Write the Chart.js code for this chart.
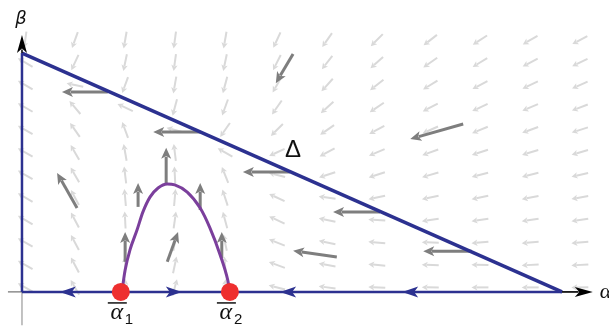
<!DOCTYPE html>
<html>
<head>
<meta charset="utf-8">
<script src="https://cdn.jsdelivr.net/npm/chart.js@4.4.0/dist/chart.umd.min.js"></script>
<style>
html, body { margin: 0; padding: 0; background: #fff; }
</style>
</head>
<body>
<canvas id="myChart" width="609" height="328"></canvas>
<script>
// phase plane, triangle corners at (1,0) and (0,1): Delta is alpha + beta = 1
const fieldAlpha = [0.006, 0.098, 0.191, 0.283, 0.376, 0.472, 0.565, 0.657, 0.756, 0.848, 0.941, 1.033];
const fieldBeta = [1.054, 0.960, 0.866, 0.772, 0.678, 0.584, 0.490, 0.395, 0.301, 0.207, 0.113, 0.019];
// arrow direction in degrees (0 = right, 90 = up), one list per column, top row first
const fieldAngles = [
  [262, 150, 150, 150, 150, 150, 150, 150, 150, 150, 150, 150],
  [250, 245, 168, 130, 125, 120, 120, 118, 118, 118, 118, 120],
  [260, 258, 250, 155, 110, 100, 97, 95, 93, 92, 90, 88],
  [262, 262, 260, 255, 165, 97, 93, 85, 82, 80, 78, 75],
  [260, 258, 255, 250, 235, 150, 112, 108, 105, 102, 95, 85],
  [245, 243, 240, 235, 225, 205, 165, 155, 155, 158, 160, 165],
  [235, 232, 228, 222, 215, 208, 198, 172, 168, 168, 170, 172],
  [225, 222, 218, 214, 208, 203, 198, 192, 177, 175, 175, 177],
  [218, 215, 212, 208, 204, 200, 196, 192, 188, 178, 178, 179],
  [213, 211, 208, 205, 202, 198, 195, 192, 188, 185, 179, 180],
  [210, 208, 205, 203, 200, 197, 194, 191, 188, 185, 183, 180],
  [208, 206, 204, 201, 198, 196, 193, 190, 188, 185, 183, 181]
];

// sample trajectories (dark arrows): start and tip
const darkFromAlpha = [0.159, 0.330, 0.502, 0.817, 0.496, 0.663, 0.583, 0.833, 0.102, 0.191, 0.215, 0.267, 0.269, 0.330, 0.370];
const darkFromBeta  = [0.837, 0.669, 0.996, 0.703, 0.502, 0.335, 0.146, 0.170, 0.351, 0.126, 0.356, 0.456, 0.126, 0.343, 0.142];
const darkToAlpha   = [0.074, 0.243, 0.470, 0.719, 0.409, 0.576, 0.502, 0.743, 0.065, 0.191, 0.215, 0.267, 0.289, 0.330, 0.370];
const darkToBeta    = [0.837, 0.669, 0.874, 0.640, 0.502, 0.335, 0.172, 0.170, 0.498, 0.251, 0.456, 0.603, 0.251, 0.456, 0.251];

// flow on the beta = 0 axis
const axisHeadAlpha = [0.070, 0.296, 0.478, 0.704];
const axisHeadDir = [-1, 1, -1, -1];

// alpha-nullcline
const curveAlpha = [0.185, 0.191, 0.200, 0.213, 0.224, 0.237, 0.252, 0.269, 0.283, 0.306, 0.330, 0.348, 0.367, 0.381, 0.385];
const curveBeta  = [0, 0.092, 0.176, 0.259, 0.335, 0.397, 0.435, 0.452, 0.448, 0.418, 0.351, 0.268, 0.155, 0.050, 0];

// equilibria
const eqAlpha = [0.183, 0.385];
const eqNames = ['1', '2'];

const NAVY = '#2c3190';
const zip = (xs, ys) => xs.map((v, i) => ({x: v, y: ys[i]}));

function drawArrow(ctx, x0, y0, x1, y1, hl, hw, lw, color) {
  const a = Math.atan2(y1 - y0, x1 - x0);
  const c = Math.cos(a), s = Math.sin(a);
  ctx.strokeStyle = color;
  ctx.fillStyle = color;
  ctx.lineWidth = lw;
  ctx.beginPath();
  ctx.moveTo(x0, y0);
  ctx.lineTo(x1 - c * hl * 0.8, y1 - s * hl * 0.8);
  ctx.stroke();
  const bx = x1 - c * hl, by = y1 - s * hl;
  ctx.beginPath();
  ctx.moveTo(x1, y1);
  ctx.lineTo(bx + s * hw, by - c * hw);
  ctx.lineTo(x1 - c * hl * 0.75, y1 - s * hl * 0.75);
  ctx.lineTo(bx - s * hw, by + c * hw);
  ctx.closePath();
  ctx.fill();
}

const phasePlugin = {
  id: 'phase',
  beforeDatasetsDraw(chart) {
    const {ctx, scales: {x, y}} = chart;
    ctx.save();
    ctx.lineCap = 'butt';
    fieldAlpha.forEach((a, i) => {
      fieldBeta.forEach((b, j) => {
        const t = fieldAngles[i][j] * Math.PI / 180;
        const cx = x.getPixelForValue(a), cy = y.getPixelForValue(b);
        const dx = Math.cos(t) * 8.5, dy = -Math.sin(t) * 8.5;
        drawArrow(ctx, cx - dx, cy - dy, cx + dx, cy + dy, 6, 3.2, 2, '#d9d9d9');
      });
    });
    darkFromAlpha.forEach((a, i) => {
      drawArrow(ctx,
        x.getPixelForValue(a), y.getPixelForValue(darkFromBeta[i]),
        x.getPixelForValue(darkToAlpha[i]), y.getPixelForValue(darkToBeta[i]),
        11, 5, 3, '#7e7e7e');
    });
    ctx.restore();
  },
  afterDatasetsDraw(chart) {
    const {ctx, scales: {x, y}} = chart;
    ctx.save();
    const y0 = y.getPixelForValue(0), x0 = x.getPixelForValue(0);
    // axis end arrows
    drawArrow(ctx, x0, y.getPixelForValue(1), x0, y.getPixelForValue(1.075), 18, 5, 1.5, '#000');
    drawArrow(ctx, x.getPixelForValue(1), y0, x.getPixelForValue(1.057), y0, 18, 5, 1.5, '#000');
    // flow direction on the alpha axis
    axisHeadAlpha.forEach((a, i) => {
      const px = x.getPixelForValue(a);
      drawArrow(ctx, px - axisHeadDir[i] * 16, y0, px, y0, 16, 5.5, 0.1, NAVY);
    });
    // labels
    ctx.fillStyle = '#111';
    ctx.textAlign = 'center';
    ctx.textBaseline = 'middle';
    ctx.font = 'italic 18px "DejaVu Sans"';
    ctx.fillText('\u03b2', x0 - 1, 19);
    ctx.font = '24px "Liberation Sans"';
    ctx.fillText('\u0394', x.getPixelForValue(0.502), y.getPixelForValue(0.594));
    ctx.textAlign = 'left';
    ctx.font = 'italic 22px "Liberation Serif"';
    ctx.fillText('\u03b1', x.getPixelForValue(1.070), y0);
    eqAlpha.forEach((a, i) => {
      const px = x.getPixelForValue(a) - 4;
      ctx.textAlign = 'center';
      ctx.font = 'italic 24px "Liberation Serif"';
      ctx.fillText('\u03b1', px, y0 + 21);
      ctx.strokeStyle = '#111';
      ctx.lineWidth = 1.5;
      ctx.beginPath();
      ctx.moveTo(px - 9, y0 + 11);
      ctx.lineTo(px + 10, y0 + 11);
      ctx.stroke();
      ctx.textAlign = 'left';
      ctx.font = '15px "Liberation Sans"';
      ctx.fillText(eqNames[i], px + 8, y0 + 28);
    });
    ctx.restore();
  }
};

const config = {
  type: 'line',
  data: {
    datasets: [
      {
        label: 'equilibria',
        type: 'scatter',
        data: zip(eqAlpha, [0, 0]),
        pointRadius: 9,
        pointHoverRadius: 9,
        pointBackgroundColor: '#ee2f2f',
        pointBorderWidth: 0,
        order: 0
      },
      {
        label: 'nullcline',
        data: zip(curveAlpha, curveBeta),
        borderColor: '#7b3f9c',
        borderWidth: 3,
        pointRadius: 0,
        tension: 0.4,
        cubicInterpolationMode: 'monotone',
        order: 1
      },
      {
        label: 'Delta',
        data: zip([0, 1], [1, 0]),
        borderColor: NAVY,
        borderWidth: 3.5,
        pointRadius: 0,
        order: 2
      },
      {
        label: 'beta edge',
        data: zip([0, 0], [0, 1]),
        borderColor: NAVY,
        borderWidth: 2.5,
        pointRadius: 0,
        order: 2
      },
      {
        label: 'alpha edge',
        data: zip([0, 1], [0, 0]),
        borderColor: NAVY,
        borderWidth: 2.5,
        pointRadius: 0,
        order: 2
      },
      {
        label: 'alpha axis',
        data: zip([-0.026, 1.04], [0, 0]),
        borderColor: '#777',
        borderWidth: 1.2,
        pointRadius: 0,
        order: 3
      },
      {
        label: 'beta axis',
        data: zip([0, 0], [-0.14, 0]),
        borderColor: '#999',
        borderWidth: 1.2,
        pointRadius: 0,
        order: 3
      }
    ]
  },
  options: {
    responsive: false,
    animation: false,
    clip: false,
    layout: { padding: 0, autoPadding: false },
    plugins: { legend: { display: false }, tooltip: { enabled: false } },
    scales: {
      x: { type: 'linear', display: false, min: -0.0407, max: 1.087 },
      y: { type: 'linear', display: false, min: -0.151, max: 1.222 }
    }
  },
  plugins: [phasePlugin]
};

const myChart = new Chart(document.getElementById('myChart'), config);
</script>
</body>
</html>
